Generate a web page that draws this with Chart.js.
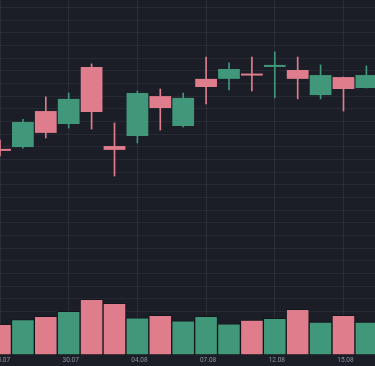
<!DOCTYPE html>
<html>
<head>
<meta charset="utf-8">
<script src="https://cdn.jsdelivr.net/npm/chart.js@4"></script>
<style>
  html, body { margin: 0; padding: 0; background: #1b1e27; }
  #wrap { width: 375px; height: 366px; }
</style>
</head>
<body>
<div id="wrap"><canvas id="c" width="375" height="366"></canvas></div>
<script>
const dates = ["25.07","28.07","29.07","30.07","31.07","01.08","04.08","05.08","06.08","07.08","08.08","11.08","12.08","13.08","14.08","15.08","18.08"];
const open  = [98.40, 98.49, 99.91, 99.40, 101.65, 98.53, 98.93, 100.50, 99.32, 101.18, 101.18, 101.35, 101.65, 101.53, 100.54, 101.25, 100.82];
const high  = [98.77, 99.58, 100.47, 100.62, 101.77, 99.44, 100.70, 100.78, 100.62, 102.04, 101.81, 102.04, 102.24, 102.04, 101.73, 101.25, 101.69];
const low   = [98.14, 98.45, 98.85, 99.24, 99.20, 97.35, 98.65, 99.16, 99.28, 100.19, 100.74, 100.70, 100.43, 100.39, 100.39, 99.91, 100.82];
const close = [98.34, 99.48, 99.05, 100.39, 99.87, 98.38, 100.62, 100.03, 100.43, 100.86, 101.57, 101.31, 101.73, 101.18, 101.33, 100.78, 101.33];
const volume = [1.73, 1.99, 2.18, 2.46, 3.14, 2.91, 2.10, 2.24, 1.93, 2.18, 1.76, 1.97, 2.07, 2.57, 1.86, 2.24, 1.86];
const prevClose = 98.60;
const labelEvery = 3;

const UP = '#40977a';
const DOWN = '#e07d8d';

const idx = dates.map((d, i) => i);
const candleColor = idx.map(i => close[i] >= open[i] ? UP : DOWN);
const volColor = idx.map(i => close[i] >= (i === 0 ? prevClose : close[i - 1]) ? UP : DOWN);

new Chart(document.getElementById('c'), {
  type: 'bar',
  data: {
    datasets: [
      {
        label: 'body',
        data: idx.map(i => ({ x: i, y: [open[i], close[i]] })),
        backgroundColor: candleColor,
        borderWidth: 0,
        barPercentage: 1,
        categoryPercentage: 0.95,
        minBarLength: 2,
        grouped: false,
        yAxisID: 'y'
      },
      {
        label: 'wick',
        data: idx.map(i => ({ x: i, y: [low[i], high[i]] })),
        backgroundColor: candleColor,
        borderWidth: 0,
        barThickness: 1,
        grouped: false,
        yAxisID: 'y'
      },
      {
        label: 'volume',
        data: idx.map(i => ({ x: i, y: volume[i] })),
        backgroundColor: volColor,
        borderColor: '#14161c',
        borderWidth: 1,
        borderSkipped: false,
        barPercentage: 1,
        categoryPercentage: 1,
        grouped: false,
        yAxisID: 'v'
      }
    ]
  },
  options: {
    responsive: false,
    animation: false,
    layout: { padding: 0 },
    plugins: { legend: { display: false }, tooltip: { enabled: false } },
    scales: {
      x: {
        type: 'linear',
        offset: false,
        min: 0,
        max: 16.376,
        afterBuildTicks: s => { s.ticks = idx.filter(i => i % labelEvery === 0).map(v => ({ value: v })); },
        afterFit: s => { s.height = 11; s.paddingLeft = 0; s.paddingRight = 0; },
        grid: { color: 'rgba(255,255,255,0.07)', drawTicks: false, offset: false },
        border: { display: false },
        ticks: {
          callback: v => dates[v] || '',
          color: '#8e939c',
          font: { family: 'Roboto', size: 6.5 },
          padding: 1,
          labelOffset: 2,
          maxRotation: 0,
          autoSkip: false
        }
      },
      y: {
        position: 'right',
        min: 90.29,
        max: 104.29,
        afterBuildTicks: s => {
          const t = [];
          for (let v = 90.5; v <= 104.29; v += 0.5) t.push({ value: v });
          s.ticks = t;
        },
        afterFit: s => { s.width = 0; },
        grid: { color: 'rgba(255,255,255,0.05)', drawTicks: false },
        border: { display: false },
        ticks: { display: false }
      },
      v: {
        display: false,
        min: 0,
        max: 20
      }
    }
  }
});
</script>
</body>
</html>
